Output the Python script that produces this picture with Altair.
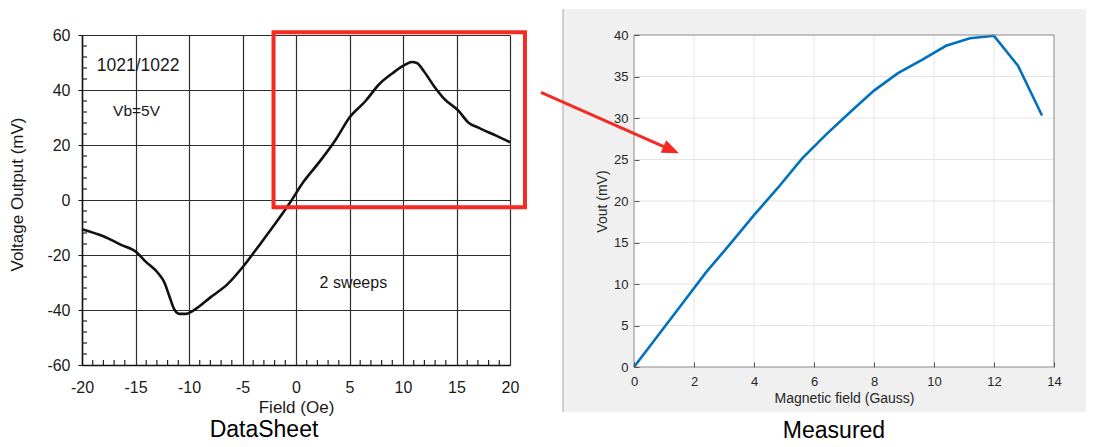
import altair as alt
import pandas as pd

FONT = "Liberation Sans"

# ---------------- Data sheet (left) ----------------
ds_field = [-20, -18, -16.4, -14.9, -14.1, -12.8, -12.3, -11.85, -11.4, -10.9,
            -10.25, -9.6, -8.0, -6.4, -4.9, -3.5, -1.9, -0.6, 0.7, 2.3,
            3.75, 5.0, 6.5, 7.75, 9.06, 10.2, 10.8, 11.3, 11.95, 12.9,
            13.9, 15.2, 16.1, 17.1, 18.7, 20]
ds_vout = [-10.6, -13.2, -16.2, -19.0, -22.2, -27.0, -30.0, -34.8, -39.6, -41.4,
           -41.4, -40.2, -35.4, -30.6, -24.0, -16.8, -8.4, -1.2, 6.6, 14.4,
           22.2, 30.0, 36.0, 42.0, 46.2, 49.2, 50.2, 49.8, 46.8, 41.4,
           36.6, 32.4, 28.2, 26.2, 23.4, 21.0]
ds_xticks = [-20, -15, -10, -5, 0, 5, 10, 15, 20]
ds_yticks = [-60, -40, -20, 0, 20, 40, 60]
ds_xminor = [-19, -18, -17, -16, -14, -13, -12, -11, -9, -8, -7, -6, -4, -3, -2, -1,
             1, 2, 3, 4, 6, 7, 8, 9, 11, 12, 13, 14, 16, 17, 18, 19]
ds_yminor = [-56, -52, -48, -44, -36, -32, -28, -24, -16, -12, -8, -4,
             4, 8, 12, 16, 24, 28, 32, 36, 44, 48, 52, 56]
ds_notes = ["1021/1022", "Vb=5V", "2 sweeps"]
ds_note_x = [-14.75, -14.9, 5.36]
ds_note_y = [48.6, 32.4, -30.2]
ds_note_size = [17.5, 15.5, 16]
# highlighted region (red box), in datasheet units
box_x = [-2.1, 21.4]
box_y = [-2.6, 61.0]

# ---------------- Measured (right) ----------------
meas_field = [0, 0.8, 1.6, 2.4, 3.2, 4.0, 4.8, 5.6, 6.4, 7.2, 8.0, 8.8,
              9.6, 10.4, 11.2, 12.0, 12.8, 13.6]
meas_vout = [0, 3.8, 7.6, 11.4, 14.8, 18.3, 21.6, 25.1, 28.0, 30.7, 33.3, 35.4,
             37.0, 38.7, 39.6, 39.9, 36.3, 30.3]
m_xticks = [0, 2, 4, 6, 8, 10, 12, 14]
m_yticks = [0, 5, 10, 15, 20, 25, 30, 35, 40]
m_xgrid = [2, 4, 6, 8, 10, 12]
m_ygrid = [5, 10, 15, 20, 25, 30, 35]
# arrow (in measured-plot units): start, shaft end, tip
arrow_x = [-3.1, 1.18, 1.5]
arrow_y = [33.1, 26.25, 25.74]

LW, LH = 428, 330
RW, RH = 420, 332
RED = "#f42a24"

neg_label = "datum.value < 0 ? '-' + abs(datum.value) : '' + datum.value"


def lx(field):
    return alt.X(field, type="quantitative",
                 scale=alt.Scale(domain=[-20, 20], nice=False, zero=False),
                 axis=alt.Axis(values=ds_xticks, title="Field (Oe)", grid=True,
                               gridColor="#2e2e2e", gridWidth=1.2, gridOpacity=1,
                               domainColor="#111111", domainWidth=1.5, tickSize=0,
                               labelPadding=14, labelFontSize=16, labelColor="#1a1a1a",
                               labelFont=FONT, labelFlush=False, labelExpr=neg_label,
                               titleFont=FONT, titleFontSize=17, titleFontWeight="normal",
                               titleColor="#1a1a1a", titlePadding=4))


def ly(field):
    return alt.Y(field, type="quantitative",
                 scale=alt.Scale(domain=[-60, 60], nice=False, zero=False),
                 axis=alt.Axis(values=ds_yticks, title="Voltage Output (mV)", grid=True,
                               gridColor="#2e2e2e", gridWidth=1.2, gridOpacity=1,
                               domainColor="#111111", domainWidth=1.5, tickSize=4,
                               tickColor="#111111", labelPadding=8, labelFontSize=16,
                               labelColor="#1a1a1a", labelFont=FONT, labelExpr=neg_label,
                               titleFont=FONT, titleFontSize=17, titleFontWeight="normal",
                               titleColor="#1a1a1a", titlePadding=20, titleY=159))


ds_df = pd.DataFrame({"field": ds_field, "vout": ds_vout})
xminor_df = pd.DataFrame({"field": ds_xminor})
yminor_df = pd.DataFrame({"vout": ds_yminor})
notes_df = pd.DataFrame({"field": ds_note_x, "vout": ds_note_y, "txt": ds_notes,
                         "fs": ds_note_size})
box_df = pd.DataFrame({"x0": [box_x[0]], "x1": [box_x[1]], "y0": [box_y[0]], "y1": [box_y[1]]})

ds_line = alt.Chart(ds_df).mark_line(color="#111111", strokeWidth=2.6,
                                     interpolate="monotone").encode(
    x=lx("field"), y=ly("vout"))
ds_xmin = alt.Chart(xminor_df).mark_rule(color="#222222", strokeWidth=1.2).encode(
    x=lx("field"), y=alt.value(LH - 5), y2=alt.value(LH))
ds_ymin = alt.Chart(yminor_df).mark_rule(color="#222222", strokeWidth=1.2).encode(
    y=ly("vout"), x=alt.value(0), x2=alt.value(5))
ds_text = alt.Chart(notes_df).mark_text(font=FONT, color="#1a1a1a").encode(
    x=lx("field"), y=ly("vout"), text="txt:N",
    size=alt.Size("fs:Q", scale=None, legend=None))
ds_box = alt.Chart(box_df).mark_rect(fill="white", fillOpacity=0, stroke=RED,
                                     strokeWidth=4).encode(
    x=lx("x0"), x2=alt.X2("x1"), y=ly("y0"), y2=alt.Y2("y1"))

left = alt.layer(ds_xmin, ds_ymin, ds_line, ds_text, ds_box).properties(
    width=LW, height=LH,
    title=alt.TitleParams("DataSheet", orient="bottom", anchor="middle", frame="group",
                          dx=-32, offset=4, fontSize=23, font=FONT,
                          fontWeight="normal", color="black"))


def rx(field):
    return alt.X(field, type="quantitative",
                 scale=alt.Scale(domain=[0, 14], nice=False, zero=False),
                 axis=alt.Axis(values=m_xticks, title="Magnetic field (Gauss)", grid=False,
                               domain=False, tickSize=5, offset=-5, tickColor="#555555",
                               labelPadding=8, labelFontSize=13, labelColor="#262626",
                               labelFont=FONT, labelFlush=False, titleFont=FONT,
                               titleFontSize=14, titleFontWeight="normal",
                               titleColor="#262626", titlePadding=3, zindex=1))


def ry(field):
    return alt.Y(field, type="quantitative",
                 scale=alt.Scale(domain=[0, 40], nice=False, zero=False),
                 axis=alt.Axis(values=m_yticks, title="Vout (mV)", grid=False,
                               domain=False, tickSize=5, offset=-5, tickColor="#555555",
                               labelPadding=6, labelFontSize=13, labelColor="#262626",
                               labelFont=FONT, titleFont=FONT, titleFontSize=14,
                               titleFontWeight="normal", titleColor="#262626",
                               titlePadding=4, zindex=1))


m_df = pd.DataFrame({"g": meas_field, "v": meas_vout})
xgrid_df = pd.DataFrame({"g": m_xgrid})
ygrid_df = pd.DataFrame({"v": m_ygrid})
arrow_df = pd.DataFrame({"x0": [arrow_x[0]], "y0": [arrow_y[0]],
                         "x1": [arrow_x[1]], "y1": [arrow_y[1]]})
tip_df = pd.DataFrame({"g": [arrow_x[2]], "v": [arrow_y[2]]})

base = alt.Chart(pd.DataFrame({"k": [0]}))
panel = base.mark_rect(color="#f0f0f0").encode(
    x=alt.value(-71), x2=alt.value(452), y=alt.value(-26), y2=alt.value(377))
panel_edge = base.mark_rule(color="#a8a8a8", strokeWidth=1).encode(
    x=alt.value(-71), y=alt.value(-26), y2=alt.value(377))
plot_bg = base.mark_rect(color="white").encode(
    x=alt.value(0), x2=alt.value(RW), y=alt.value(0), y2=alt.value(RH))
xgrid = alt.Chart(xgrid_df).mark_rule(color="#e4e4e4", strokeWidth=1).encode(
    x=rx("g"), y=alt.value(0), y2=alt.value(RH))
ygrid = alt.Chart(ygrid_df).mark_rule(color="#e4e4e4", strokeWidth=1).encode(
    y=ry("v"), x=alt.value(0), x2=alt.value(RW))
m_line = alt.Chart(m_df).mark_line(color="#0072BD", strokeWidth=2.6).encode(
    x=rx("g"), y=ry("v"))
box = base.mark_rect(fill="white", fillOpacity=0, stroke="#8a8a8a", strokeWidth=1).encode(
    x=alt.value(0), x2=alt.value(RW), y=alt.value(0), y2=alt.value(RH))
arrow = alt.Chart(arrow_df).mark_rule(color=RED, strokeWidth=3).encode(
    x=rx("x0"), x2=alt.X2("x1"), y=ry("y0"), y2=alt.Y2("y1"))
head = alt.Chart(tip_df).mark_point(shape="M0,0 L-2,-0.8 L-2,0.8 Z", filled=True,
                                     color=RED, opacity=1, size=289, angle=24).encode(
    x=rx("g"), y=ry("v"))

right = alt.layer(panel, panel_edge, plot_bg, xgrid, ygrid, m_line, box, arrow, head).properties(
    width=RW, height=RH,
    title=alt.TitleParams("Measured", orient="bottom", anchor="middle", frame="group",
                          dx=-10, offset=7, fontSize=23, font=FONT,
                          fontWeight="normal", color="black"))

chart = alt.hconcat(left, right, spacing=124, bounds="flush", padding=0,
                    background="white").configure_view(strokeWidth=0)

chart.save("out.html", embed_options={"renderer": "svg", "actions": False})
